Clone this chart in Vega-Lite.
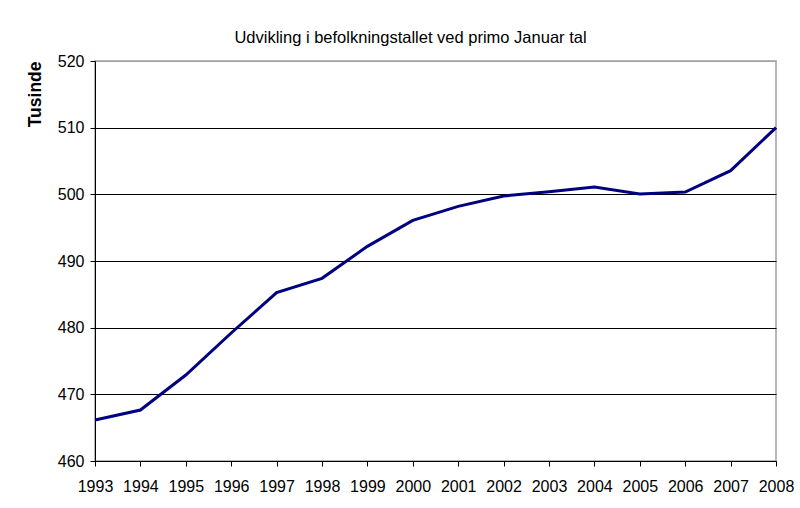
{
  "$schema": "https://vega.github.io/schema/vega-lite/v6.json",
  "width": 681,
  "height": 400,
  "autosize": {"type": "none"},
  "padding": {"left": 95, "top": 61, "right": 24, "bottom": 47},
  "background": "white",
  "title": {
    "text": "Udvikling i befolkningstallet ved primo Januar tal",
    "font": "Liberation Sans",
    "fontSize": 16.5,
    "fontWeight": "normal",
    "color": "black",
    "anchor": "middle",
    "dx": -25,
    "offset": 7
  },
  "data": {
    "values": [
      {"year": 1993, "tusinde": 466.15},
      {"year": 1994, "tusinde": 467.65},
      {"year": 1995, "tusinde": 472.9},
      {"year": 1996, "tusinde": 479.2},
      {"year": 1997, "tusinde": 485.25},
      {"year": 1998, "tusinde": 487.4},
      {"year": 1999, "tusinde": 492.2},
      {"year": 2000, "tusinde": 496.1},
      {"year": 2001, "tusinde": 498.2},
      {"year": 2002, "tusinde": 499.75},
      {"year": 2003, "tusinde": 500.4},
      {"year": 2004, "tusinde": 501.1},
      {"year": 2005, "tusinde": 500.05},
      {"year": 2006, "tusinde": 500.35},
      {"year": 2007, "tusinde": 503.55},
      {"year": 2008, "tusinde": 510.0}
    ]
  },
  "mark": {"type": "line", "color": "#000080", "strokeWidth": 3, "strokeJoin": "miter"},
  "encoding": {
    "x": {
      "field": "year",
      "type": "quantitative",
      "scale": {"domain": [1993, 2008], "nice": false, "zero": false},
      "axis": {
        "values": [1993, 1994, 1995, 1996, 1997, 1998, 1999, 2000, 2001, 2002, 2003, 2004, 2005, 2006, 2007, 2008],
        "format": "d",
        "title": null,
        "grid": false,
        "domainColor": "black",
        "tickColor": "black",
        "tickSize": 5,
        "labelFont": "Liberation Sans",
        "labelFontSize": 16,
        "labelColor": "black",
        "labelPadding": 12,
        "labelFlush": false,
        "labelOverlap": false
      }
    },
    "y": {
      "field": "tusinde",
      "type": "quantitative",
      "scale": {"domain": [460, 520], "nice": false, "zero": false},
      "axis": {
        "values": [460, 470, 480, 490, 500, 510, 520],
        "title": "Tusinde",
        "titleFont": "Liberation Sans",
        "titleFontSize": 17.5,
        "titleFontWeight": "bold",
        "titleColor": "black",
        "titleAnchor": "end",
        "titlePadding": 13,
        "domainColor": "black",
        "tickColor": "black",
        "tickSize": 5,
        "labelFont": "Liberation Sans",
        "labelFontSize": 16,
        "labelColor": "black",
        "labelPadding": 6,
        "grid": true,
        "gridColor": {"condition": {"test": "datum.value == 520", "value": "#a0a0a0"}, "value": "#000000"},
        "gridOpacity": 1
      }
    }
  },
  "config": {"view": {"stroke": "#a0a0a0", "strokeWidth": 1.5}}
}
